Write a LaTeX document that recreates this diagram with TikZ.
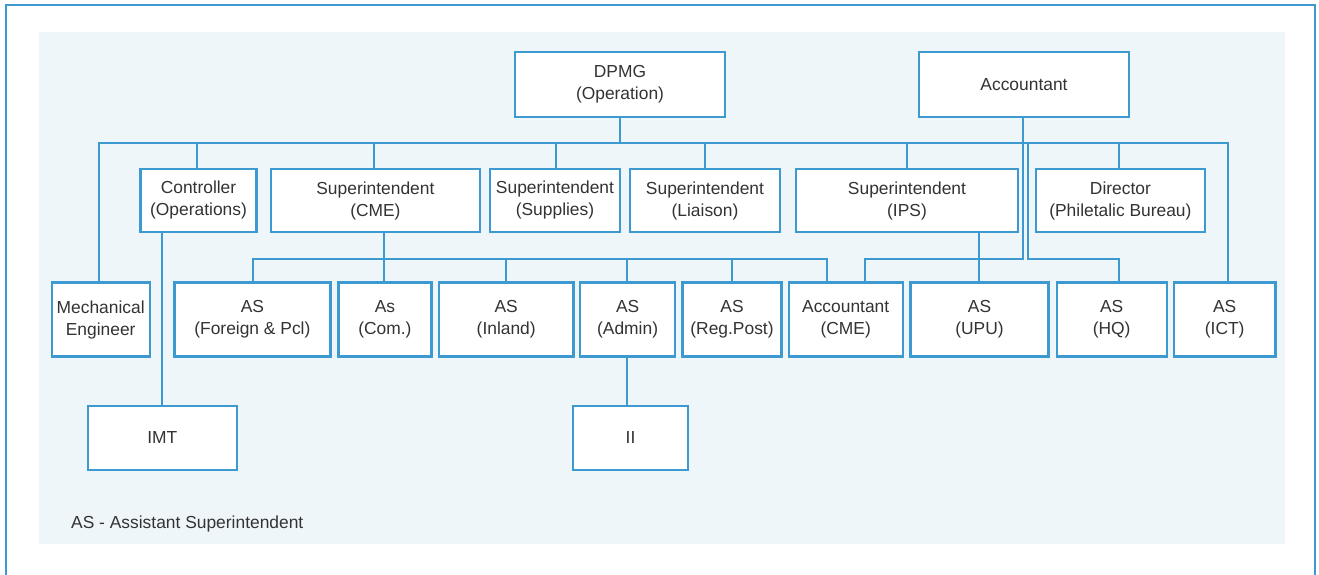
\documentclass[tikz,border=0pt]{standalone}
\usepackage{fontspec}
\setmainfont{Liberation Sans}
\definecolor{lineblue}{HTML}{3D9AD1}
\definecolor{panel}{HTML}{EEF6FA}
\definecolor{txt}{HTML}{333333}
\begin{document}
\begin{tikzpicture}[x=1pt,y=-1pt,
  orgbox/.style={draw=lineblue,line width=2.2pt,fill=white,align=center,inner sep=0pt,
    text=txt,font=\fontsize{17.4}{22}\selectfont},
  conn/.style={draw=lineblue,line width=2pt}]
\useasboundingbox (0,0) rectangle (1319,575);
% frame and panel
\draw[lineblue,line width=2pt] (6,590) -- (6,5) -- (1315,5) -- (1315,590);
\fill[panel] (39,32) rectangle (1285,544);
% top row
\node[orgbox,minimum width=210,minimum height=65] (dpmg) at (620,84.5) {DPMG\\(Operation)};
\node[orgbox,minimum width=210,minimum height=65] (acct) at (1024,84.5) {Accountant};
% second row
\node[orgbox,minimum width=116,minimum height=63] (ctrl) at (198.5,200.5) {Controller\\(Operations)};
\node[orgbox,minimum width=209,minimum height=63] (scme) at (375.4,200.5) {Superintendent\\(CME)};
\node[orgbox,minimum width=130,minimum height=63] (ssup) at (555,200.5) {Superintendent\\(Supplies)};
\node[orgbox,minimum width=150,minimum height=63] (slia) at (705,200.5) {Superintendent\\(Liaison)};
\node[orgbox,minimum width=222,minimum height=63] (sips) at (907,200.5) {Superintendent\\(IPS)};
\node[orgbox,minimum width=169,minimum height=63] (dir) at (1120.4,200.5) {Director\\(Philetalic Bureau)};
% third row
\node[orgbox,minimum width=98,minimum height=74] (mech) at (100.7,319.5) {Mechanical\\Engineer};
\node[orgbox,minimum width=156,minimum height=74] (asf) at (252.4,319.5) {AS\\(Foreign \& Pcl)};
\node[orgbox,minimum width=93,minimum height=74] (ascom) at (384.9,319.5) {As\\(Com.)};
\node[orgbox,minimum width=134.5,minimum height=74] (asin) at (506.2,319.5) {AS\\(Inland)};
\node[orgbox,minimum width=95,minimum height=74] (asad) at (627.6,319.5) {AS\\(Admin)};
\node[orgbox,minimum width=99,minimum height=74] (asreg) at (732,319.5) {AS\\(Reg.Post)};
\node[orgbox,minimum width=114,minimum height=74] (accme) at (845.7,319.5) {Accountant\\(CME)};
\node[orgbox,minimum width=138,minimum height=74] (asupu) at (979.5,319.5) {AS\\(UPU)};
\node[orgbox,minimum width=110,minimum height=74] (ashq) at (1111.6,319.5) {AS\\(HQ)};
\node[orgbox,minimum width=101.5,minimum height=74] (asict) at (1224.7,319.5) {AS\\(ICT)};
% fourth row
\node[orgbox,minimum width=148.6,minimum height=64.3] (imt) at (162.3,437.8) {IMT};
\node[orgbox,minimum width=115.7,minimum height=64.3] (ii) at (630.5,437.8) {II};
% legend
\node[anchor=west,inner sep=0pt,text=txt,font=\fontsize{17.4}{22}\selectfont] (legend) at (71,524) {AS - Assistant Superintendent};
% coordinates
\coordinate (busL) at (99.4,143);
\coordinate (busR) at (1228,143);
\coordinate (hqjoin) at (1028.3,143);
% main bus
\draw[conn] (mech.north -| busL) -- (busL) -- (busR) -- (asict.north -| busR);
\draw[conn] (dpmg.south) -- (dpmg.south |- busL);
\draw[conn] (196.7,143) -- (196.7,0 |- ctrl.north);
\draw[conn] (373.5,143) -- (373.5,0 |- scme.north);
\draw[conn] (555.8,143) -- (555.8,0 |- ssup.north);
\draw[conn] (704.7,143) -- (704.7,0 |- slia.north);
\draw[conn] (907,143) -- (907,0 |- sips.north);
\draw[conn] (1119,143) -- (1119,0 |- dir.north);
\draw[conn] (hqjoin) -- (1028.3,258.5) -- (1119,258.5) -- (1119,0 |- ashq.north);
% accountant line
\draw[conn] (1022.5,0 |- acct.south) -- (1022.5,258.5) -- (864.5,258.5) -- (864.5,0 |- accme.north);
% controller to IMT
\draw[conn] (161.7,0 |- ctrl.south) -- (161.7,0 |- imt.north);
% CME sub-bus
\draw[conn] (384.4,0 |- scme.south) -- (384.4,0 |- ascom.north);
\draw[conn] (252.6,0 |- asf.north) -- (252.6,258.5) -- (827,258.5) -- (827,0 |- accme.north);
\draw[conn] (505.7,258.5) -- (505.7,0 |- asin.north);
\draw[conn] (627,258.5) -- (627,0 |- asad.north);
\draw[conn] (732.3,258.5) -- (732.3,0 |- asreg.north);
% IPS to UPU
\draw[conn] (979.3,0 |- sips.south) -- (979.3,0 |- asupu.north);
% Admin to II
\draw[conn] (627,0 |- asad.south) -- (627,0 |- ii.north);
\end{tikzpicture}
\end{document}
